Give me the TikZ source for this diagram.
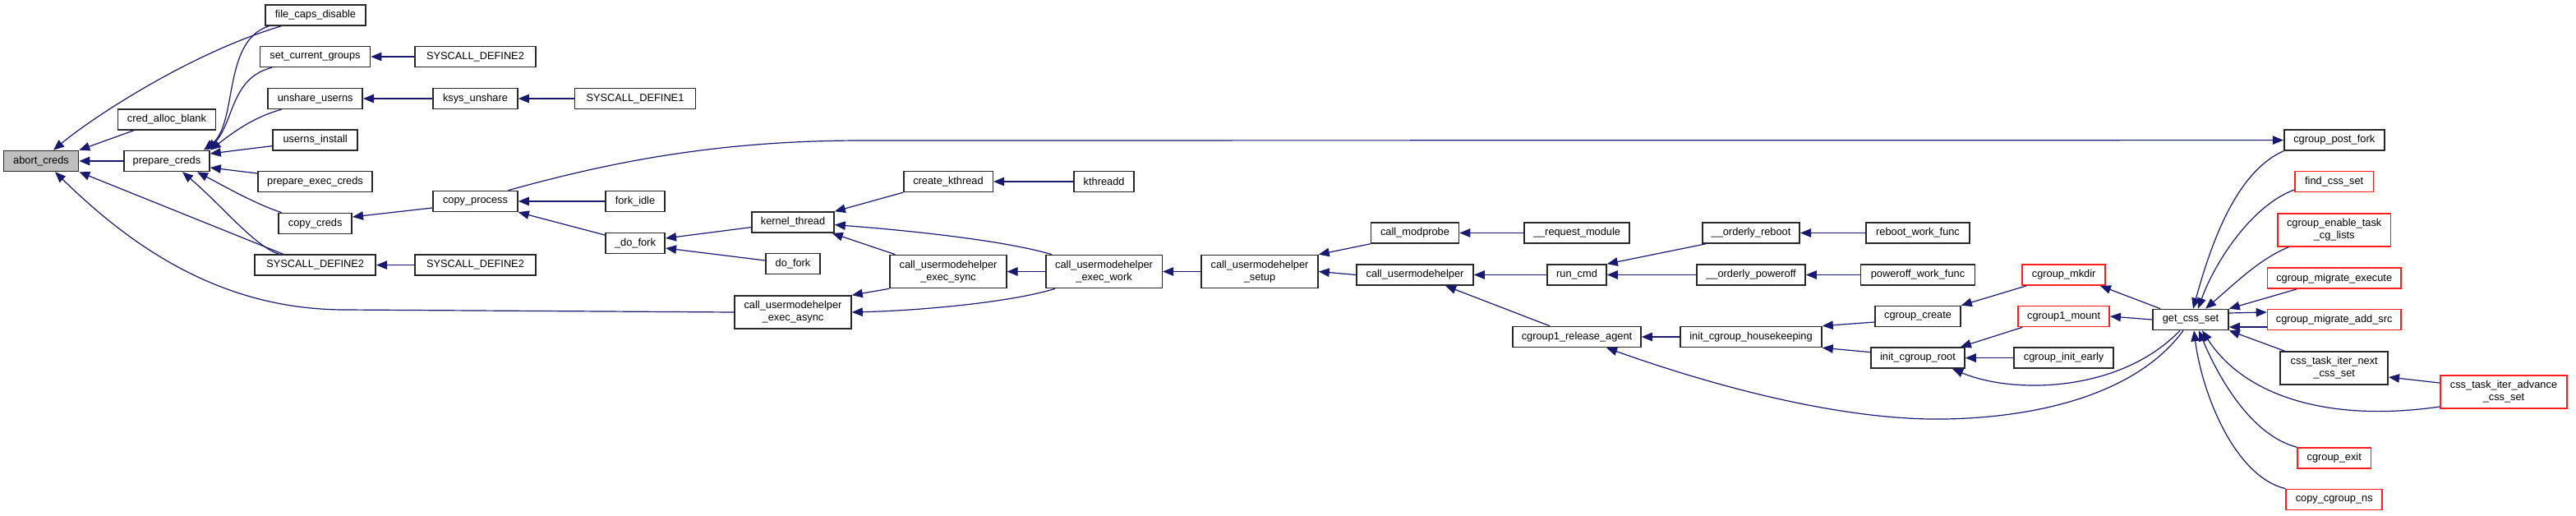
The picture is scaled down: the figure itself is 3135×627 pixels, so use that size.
\documentclass[tikz,border=0pt]{standalone}
\usepackage{fontspec}
\newfontfamily\dxfont{Liberation Sans}
\usetikzlibrary{arrows.meta}
\definecolor{mblue}{RGB}{25,25,112}
\definecolor{gfill}{RGB}{191,191,191}
\definecolor{bord}{RGB}{40,40,40}
\definecolor{rbord}{RGB}{255,30,30}
\begin{document}
\begin{tikzpicture}[x=1pt,y=-1pt,
  box/.style={draw=bord, line width=1.6pt, fill=white, inner sep=0pt, minimum height=25pt, align=center, font=\dxfont\fontsize{12.8}{15}\selectfont},
  tall/.style={minimum height=40pt},
  rbox/.style={box, draw=rbord},
  cl/.style={draw=mblue, line width=1.2pt, {Triangle[length=13pt,width=10.5pt]}-},
  fw/.style={draw=mblue, line width=1.2pt, -{Triangle[length=13pt,width=10.5pt]}}]
\fill[white] (0,0) rectangle (3135,627);
\useasboundingbox (0,0) rectangle (3135,627);
% nodes
\node[box, fill=gfill, minimum width=91pt] (abort) at (50,196) {abort\_creds};
\node[box, minimum width=119pt] (credalloc) at (203,145.5) {cred\_alloc\_blank};
\node[box, minimum width=104pt] (prep) at (203,196) {prepare\_creds};
\node[box, minimum width=122pt] (fcd) at (384,18.5) {file\_caps\_disable};
\node[box, minimum width=134pt] (scg) at (383.5,69) {set\_current\_groups};
\node[box, minimum width=115pt] (uns) at (383.7,120) {unshare\_userns};
\node[box, minimum width=103pt] (uinst) at (383.7,170.6) {userns\_install};
\node[box, minimum width=139pt] (pec) at (383.5,221) {prepare\_exec\_creds};
\node[box, minimum width=89pt] (cc) at (383.7,272) {copy\_creds};
\node[box, minimum width=147pt] (sd2a) at (383.7,322.6) {SYSCALL\_DEFINE2};
\node[box, minimum width=147pt] (sd2b) at (578.5,69) {SYSCALL\_DEFINE2};
\node[box, minimum width=103pt] (ksys) at (578.5,120) {ksys\_unshare};
\node[box, minimum width=147pt] (sd1) at (773,120) {SYSCALL\_DEFINE1};
\node[box, minimum width=103pt] (cp) at (578.5,245) {copy\_process};
\node[box, minimum width=147pt] (sd2c) at (578.5,322.6) {SYSCALL\_DEFINE2};
\node[box, minimum width=72pt] (forkidle) at (773,245) {fork\_idle};
\node[box, minimum width=72.5pt] (dofork_) at (773,296) {\_do\_fork};
\node[box, minimum width=100pt] (kt) at (965,270.6) {kernel\_thread};
\node[box, minimum width=66pt] (dofork) at (965,321) {do\_fork};
\node[box, tall, minimum width=142pt] (async) at (965,380) {call\_usermodehelper\\\_exec\_async};
\node[box, minimum width=108.6pt] (ck) at (1154,221) {create\_kthread};
\node[box, minimum width=73pt] (kthreadd) at (1343.6,221) {kthreadd};
\node[box, tall, minimum width=141.5pt] (sync) at (1154,330.5) {call\_usermodehelper\\\_exec\_sync};
\node[box, tall, minimum width=141.5pt] (work) at (1343.6,330.5) {call\_usermodehelper\\\_exec\_work};
\node[box, tall, minimum width=142pt] (setup) at (1533,330.5) {call\_usermodehelper\\\_setup};
\node[box, minimum width=107pt] (modprobe) at (1722,283.5) {call\_modprobe};
\node[box, minimum width=128pt] (reqmod) at (1919,283.5) {\_\_request\_module};
\node[box, minimum width=142pt] (umh) at (1722,334.5) {call\_usermodehelper};
\node[box, minimum width=72pt] (runcmd) at (1919,334.5) {run\_cmd};
\node[box, minimum width=156pt] (rel) at (1919,410) {cgroup1\_release\_agent};
\node[box, minimum width=118.5pt] (oreboot) at (2131,283.5) {\_\_orderly\_reboot};
\node[box, minimum width=132pt] (opoff) at (2131,334.5) {\_\_orderly\_poweroff};
\node[box, minimum width=172pt] (ich) at (2131,410) {init\_cgroup\_housekeeping};
\node[box, minimum width=125.5pt] (rwf) at (2334,283.5) {reboot\_work\_func};
\node[box, minimum width=139pt] (pwf) at (2334,334.5) {poweroff\_work\_func};
\node[box, minimum width=104pt] (ccreate) at (2334,385) {cgroup\_create};
\node[box, minimum width=114pt] (icr) at (2334,435.6) {init\_cgroup\_root};
\node[rbox, minimum width=101pt] (mkdir) at (2511.6,334.5) {cgroup\_mkdir};
\node[rbox, minimum width=111pt] (mount) at (2511.6,385) {cgroup1\_mount};
\node[box, minimum width=121pt] (cie) at (2511.6,435.6) {cgroup\_init\_early};
\node[box, minimum width=92pt] (gcs) at (2666,389) {get\_css\_set};
\node[box, minimum width=122pt] (cpf) at (2840.7,170.6) {cgroup\_post\_fork};
\node[rbox, minimum width=95.5pt] (fcs) at (2840.7,221) {find\_css\_set};
\node[rbox, tall, minimum width=137.5pt] (etcl) at (2840.7,280) {cgroup\_enable\_task\\\_cg\_lists};
\node[rbox, minimum width=162.5pt] (cme) at (2840.7,338.7) {cgroup\_migrate\_execute};
\node[rbox, minimum width=162.5pt] (cmas) at (2840.7,389) {cgroup\_migrate\_add\_src};
\node[box, tall, minimum width=131pt] (ctinext) at (2840.7,448) {css\_task\_iter\_next\\\_css\_set};
\node[rbox, tall, minimum width=154.4pt] (ctiadv) at (3047,477) {css\_task\_iter\_advance\\\_css\_set};
\node[rbox, minimum width=89.5pt] (cexit) at (2840.7,557.5) {cgroup\_exit};
\node[rbox, minimum width=117pt] (ccns) at (2840.7,608) {copy\_cgroup\_ns};
% edges
\draw[cl] ([xshift=15pt]abort.north) .. controls (110,145) and (230,65) .. ([xshift=20pt]fcd.south west);
\draw[cl] (abort.north east) -- ([xshift=20pt]credalloc.south west);
\draw[cl] (abort) -- (prep);
\draw[cl] (abort.south east) -- ([xshift=-39pt]sd2a.north);
\draw[cl] ([xshift=17pt]abort.south) .. controls (150,290) and (260,377) .. (420,377) -- (async.west);
\draw[cl] ([xshift=45pt]prep.north) .. controls (290,150) and (270,50) .. ([xshift=5pt]fcd.south west);
\draw[cl] ([xshift=49pt]prep.north) .. controls (285,150) and (280,95) .. ([xshift=15pt]scg.south west);
\draw[cl] (prep.north east) .. controls (285,160) and (310,142) .. ([xshift=17pt]uns.south west);
\draw[cl] ([yshift=9pt]prep.east) -- ([yshift=-7pt]uinst.west);
\draw[cl] ([yshift=-8pt]prep.east) -- ([yshift=10pt]pec.west);
\draw[cl] ([xshift=37pt]prep.south) .. controls (270,225) and (310,248) .. ([xshift=-41pt]cc.north);
\draw[cl] ([xshift=19pt]prep.south) .. controls (270,250) and (310,300) .. ([xshift=-44pt]sd2a.north);
\draw[cl] (scg) -- (sd2b);
\draw[cl] (uns) -- (ksys);
\draw[cl] (ksys) -- (sd1);
\draw[cl] (sd2a) -- (sd2c);
\draw[cl] ([yshift=8pt]cc.east) -- ([yshift=-8pt]cp.west);
\draw[cl] (cp) -- (forkidle);
\draw[cl] (cp.south east) -- ([yshift=10pt]dofork_.west);
\draw[cl] ([yshift=6pt]dofork_.east) -- ([yshift=-6pt]kt.west);
\draw[cl] ([yshift=-6pt]dofork_.east) -- ([yshift=4pt]dofork.west);
\draw[cl] (kt.north east) -- (ck.south west);
\draw[cl] ([yshift=-3pt]kt.east) .. controls (1100,280) and (1220,292) .. ([xshift=8pt]work.north west);
\draw[cl] ([xshift=-3pt]kt.south east) -- ([xshift=7pt]sync.north west);
\draw[cl] (ck) -- (kthreadd);
\draw[cl] (async.north east) -- (sync.south west);
\draw[cl] (async.east) .. controls (1120,378) and (1230,368) .. ([xshift=12pt]work.south west);
\draw[cl] (sync) -- (work);
\draw[cl] (work) -- (setup);
\draw[cl] (setup.north east) -- (modprobe.south west);
\draw[cl] (setup.east) -- (umh.west);
\draw[cl] (modprobe) -- (reqmod);
\draw[cl] (umh) -- (runcmd);
\draw[cl] ([xshift=37pt]umh.south) -- ([xshift=-33pt]rel.north);
\draw[cl] (runcmd.north east) -- ([xshift=5pt]oreboot.south west);
\draw[cl] (runcmd) -- (opoff);
\draw[cl] (oreboot) -- (rwf);
\draw[cl] (opoff) -- (pwf);
\draw[cl] (rel) -- (ich);
\draw[cl] ([xshift=36pt]rel.south) .. controls (2100,475) and (2250,512) .. (2367,510) .. controls (2480,508) and (2600,480) .. ([xshift=-9pt]gcs.south);
\draw[cl] (ich.north east) -- ([yshift=-7pt]ccreate.west);
\draw[cl] (ich.south east) -- ([yshift=7pt]icr.west);
\draw[cl] (ccreate.north east) -- ([xshift=6pt]mkdir.south west);
\draw[cl] ([xshift=-6pt]icr.north east) -- ([xshift=6pt]mount.south west);
\draw[cl] (icr) -- (cie);
\draw[cl] ([xshift=42pt]icr.south) .. controls (2450,480) and (2580,478) .. ([xshift=-13pt]gcs.south);
\draw[cl] ([xshift=-7pt]mkdir.south east) -- ([xshift=10pt]gcs.north west);
\draw[cl] (mount.east) -- (gcs.west);
\draw[fw] ([xshift=40pt]cp.north) .. controls (750,195) and (880,171) .. (1050,171) -- (cpf.west);
\draw[cl] ([xshift=3pt]gcs.north) .. controls (2690,300) and (2720,210) .. (cpf.south west);
\draw[cl] ([xshift=9pt]gcs.north) .. controls (2695,320) and (2740,250) .. ([yshift=-10pt]fcs.west);
\draw[cl] ([xshift=18pt]gcs.north) .. controls (2720,345) and (2750,315) .. ([xshift=14pt]etcl.south west);
\draw[cl] (gcs.north east) -- ([xshift=36pt]cme.south west);
\draw[fw] ([yshift=8pt]gcs.east) -- ([yshift=9pt]cmas.west);
\draw[cl] ([yshift=-9pt]gcs.east) -- ([yshift=-9pt]cmas.west);
\draw[cl] (gcs.south east) -- ([xshift=6pt]ctinext.north west);
\draw[cl] ([xshift=14pt]gcs.south) .. controls (2730,480) and (2830,515) .. ([yshift=-18pt]ctiadv.west);
\draw[cl] ([yshift=-11pt]ctinext.east) -- ([yshift=11pt]ctiadv.west);
\draw[cl] ([xshift=10pt]gcs.south) .. controls (2700,460) and (2740,530) .. (cexit.north west);
\draw[cl] ([xshift=4pt]gcs.south) .. controls (2680,480) and (2720,580) .. (ccns.north west);
\end{tikzpicture}
\end{document}
